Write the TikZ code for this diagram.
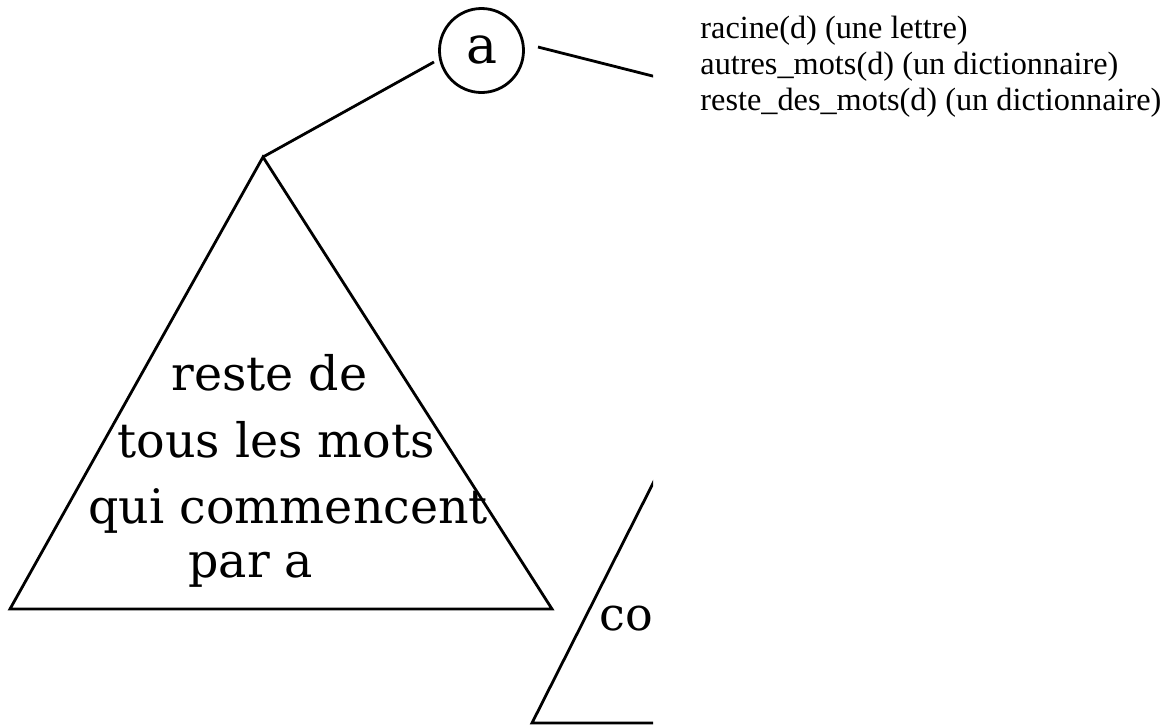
\documentclass[tikz,border=0pt]{standalone}
\usepackage{fontspec}
\newfontfamily\tnr{Liberation Serif}
\newfontfamily\djs{DejaVu Serif}
\begin{document}
\begin{tikzpicture}[x=1pt,y=-1pt,line width=2.8pt,
  lbl/.style={font=\djs\fontsize{47.5}{52}\selectfont, anchor=base west, inner sep=0pt},
  info/.style={font=\tnr\fontsize{32.3}{36}\selectfont, anchor=base west, inner sep=0pt}]
\useasboundingbox (0,0) rectangle (1164,726);
\begin{scope}
\clip (0,0) rectangle (653,726);
\node[circle, draw, minimum size=84pt, inner sep=0pt,
      font=\djs\fontsize{52}{56}\selectfont] (a) at (481.5,50.5) {a};
\coordinate (apexL) at (263,157);
\coordinate (blL) at (10,609);
\coordinate (brL) at (552,609);
\coordinate (aL) at (434,62);
\coordinate (aR) at (538,47);
\coordinate (offR) at (700,88);
\coordinate (apexR) at (796,200);
\coordinate (blR) at (532,723);
\coordinate (brR) at (1060,723);
\draw (apexL) -- (blL) -- (brL) -- cycle;
\draw (aL) -- (apexL);
\draw (aR) -- (offR);
\draw (apexR) -- (blR) -- (brR) -- cycle;
\node[lbl] (t1) at (170,390) {reste de};
\node[lbl] (t2) at (116,457) {tous les mots};
\node[lbl] (t3) at (87,523) {qui commencent};
\node[lbl] (t4) at (187,577) {par a};
\node[lbl, font=\djs\fontsize{46}{50}\selectfont] (co) at (598,630) {co};
\end{scope}
\node[info] (i1) at (699,38) {racine(d) (une lettre)};
\node[info] (i2) at (699,74) {autres\_mots(d) (un dictionnaire)};
\node[info] (i3) at (699,110) {reste\_des\_mots(d) (un dictionnaire)};
\end{tikzpicture}
\end{document}
